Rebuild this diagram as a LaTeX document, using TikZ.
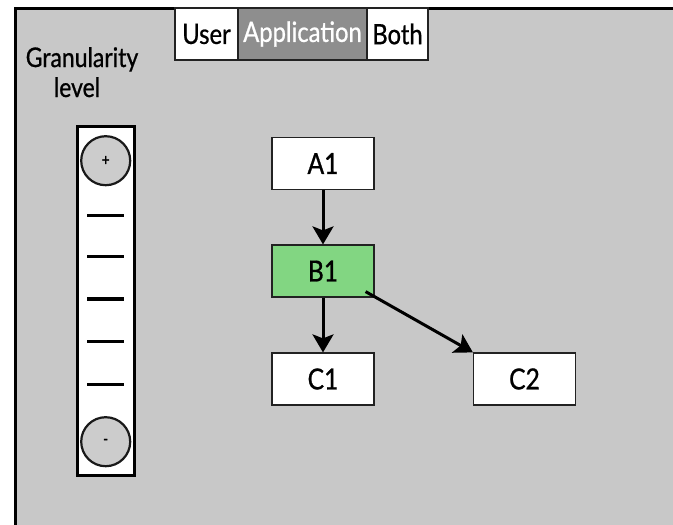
\documentclass[tikz,border=0pt]{standalone}
\usepackage{fontspec}
\setmainfont{Lato}[FakeStretch=0.85, FakeBold=0.8]
\usetikzlibrary{arrows.meta,calc}
\definecolor{panel}{HTML}{C8C8C8}
\definecolor{tabdark}{HTML}{8E8E8E}
\definecolor{knob}{HTML}{CCCCCC}
\definecolor{selgreen}{HTML}{82D682}
\definecolor{edge}{HTML}{222222}
\tikzset{
  tab/.style={draw=edge, line width=1.2pt, fill=white, minimum height=52pt,
    inner sep=0pt, font=\fontsize{28}{30}\selectfont},
  blockbox/.style={draw=edge, line width=1.2pt, fill=white, minimum width=102pt,
    minimum height=52pt, inner sep=0pt, font=\fontsize{29}{30}\selectfont},
  knobc/.style={circle, draw=black!90, line width=2.2pt, fill=knob,
    minimum size=49pt, inner sep=0pt, font=\fontsize{16}{16}\selectfont},
  tick/.style={fill=black, minimum width=37pt, minimum height=3.2pt, inner sep=0pt},
  flow/.style={line width=3pt, -{Stealth[length=18pt, width=21pt, inset=4pt]}},
  label/.style={font=\fontsize{27}{30}\selectfont, inner sep=0pt, anchor=base}
}
\begin{document}
\begin{tikzpicture}[x=1pt, y=-1pt]
  \useasboundingbox (0,0) rectangle (673,525);
  \fill[white] (0,0) rectangle (673,525);
  % window panel with its top and left frame
  \fill[panel] (15,8) rectangle (673,525);
  \draw[line width=3pt, line cap=rect] (15,525) -- (15,8) -- (673,8);

  % view selector tabs
  \node[tab, minimum width=63pt] (user) at (206.5,34) {User};
  \node[tab, minimum width=129pt, fill=tabdark, text=white] (app) at (302.5,34) {Application};
  \node[tab, minimum width=61pt] (both) at (397.5,34) {Both};

  % granularity slider
  \node[label] (granA) at (82,67) {Granularity};
  \node[label] (granB) at (77,97) {level};
  \node[draw=black, line width=3pt, fill=white, minimum width=57pt,
        minimum height=349pt, inner sep=0pt] (slider) at (105.5,300.5) {};
  \node[knobc] (plus) at (105.7,160.7) {+};
  \node[knobc] (minus) at (105.7,441.7) {-};
  \node[tick] (t1) at (105.5,215.7) {};
  \node[tick] (t2) at (105.5,256.7) {};
  \node[tick] (t3) at (105.5,299) {};
  \node[tick] (t4) at (105.5,341.7) {};
  \node[tick] (t5) at (105.5,384.3) {};

  % call hierarchy
  \node[blockbox] (A1) at (323,163.5) {A1};
  \node[blockbox, fill=selgreen] (B1) at (323,271) {B1};
  \node[blockbox] (C1) at (323,379) {C1};
  \node[blockbox] (C2) at (524.5,379) {C2};
  \coordinate (bstart) at ($(B1.south east)+(-9,-6)$);

  \draw[flow] (A1) -- (B1);
  \draw[flow] (B1) -- (C1);
  \draw[flow] (bstart) -- (C2.north west);
\end{tikzpicture}
\end{document}
